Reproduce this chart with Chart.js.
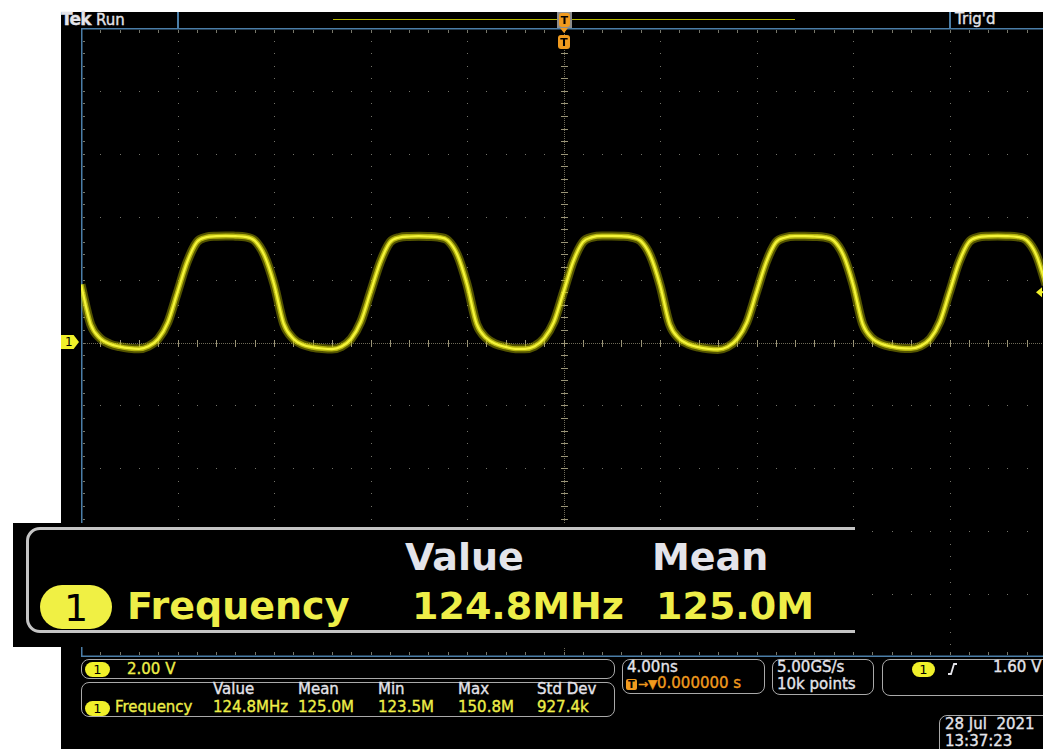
<!DOCTYPE html>
<html lang="en">
<head>
    <meta charset="UTF-8">
    <title>Tek Run - Frequency 124.8MHz</title>
    <script src="https://cdn.jsdelivr.net/npm/chart.js"></script>
    <style>
        html, body {
            margin: 0;
            padding: 0;
            width: 1043px;
            height: 749px;
            overflow: hidden;
            background: #fff;
        }
        body {
            position: relative;
            font-family: "DejaVu Sans", sans-serif;
        }
        .abs { position: absolute; }
        .scope {
            left: 61px; top: 12px;
            width: 982px; height: 737px;
            background: #000;
        }
        .chart-container {
            left: 81px; top: 28px;
            width: 965px; height: 629px;
        }
        .txt {
            position: absolute;
            white-space: nowrap;
            line-height: 1;
            font-size: 15px;
            -webkit-text-stroke: 0.35px currentColor;
        }
        .w { color: #e4e4ea; }
        .y { color: #eeee48; }
        .o { color: #f09a1e; }
        .box {
            position: absolute;
            border: 1.5px solid #a9a9a9;
            border-radius: 8px;
            box-sizing: border-box;
        }
        .pill {
            position: absolute;
            background: #f0f02a;
            color: #000;
            border-radius: 8px;
            text-align: center;
            font-size: 13px;
            line-height: 15px;
        }
        .vline { position: absolute; width: 1.5px; background: #4b7ea8; }
        /* enlarged measurement readout */
        .zoomed {
            left: 13px; top: 523px;
            width: 842px; height: 124px;
            background: #000;
            overflow: hidden;
        }
        .zoomed .frame {
            position: absolute;
            left: 13px; top: 4px;
            width: 900px; height: 106px;
            border: 3px solid #c4c4c4;
            border-radius: 14px;
            box-sizing: border-box;
        }
        .big {
            position: absolute;
            white-space: nowrap;
            line-height: 1;
            font-size: 38px;
            font-weight: bold;
        }
    </style>
</head>
<body>
    <div class="abs scope"></div>

    <!-- top status bar -->
    <div class="txt w" style="left:61px; top:11px; font-size:17px; font-weight:bold; letter-spacing:-0.8px;">Tek</div>
    <div class="txt w" style="left:96px; top:13px;">Run</div>
    <div class="vline" style="left:177px; top:12px; height:16px;"></div>
    <div class="abs" style="left:333px; top:18.5px; width:462px; height:1.5px; background:#b8b800;"></div>
    <div class="vline" style="left:949px; top:12px; height:16px;"></div>
    <div class="txt w" style="left:955px; top:12px;">Trig'd</div>

    <div class="chart-container abs">
        <canvas id="scopeChart"></canvas>
    </div>

    <!-- trigger position markers -->
    <div class="abs" style="left:557px; top:12px; width:15px; height:16px; background:#8c8c8c;"></div>
    <div class="abs o" style="left:559px; top:13px; width:11px; height:14px; background:#f09a1e; border-radius:3px; color:#000; font:bold 11px 'DejaVu Sans'; text-align:center; line-height:15px;">T</div>
    <div class="abs" style="left:560px; top:28px; width:0; height:0; border-left:4.5px solid transparent; border-right:4.5px solid transparent; border-top:5px solid #f09a1e;"></div>
    <div class="abs" style="left:558px; top:35px; width:12px; height:14px; background:#f09a1e; border-radius:3px; color:#000; font:bold 11px 'DejaVu Sans'; text-align:center; line-height:15px;">T</div>

    <!-- channel 1 ground marker -->
    <div class="abs" style="left:61px; top:335px; width:18px; height:14px; background:#f0f02a; clip-path:polygon(0 0, 70% 0, 100% 50%, 70% 100%, 0 100%); color:#000; font-size:12px; line-height:14px; text-indent:4px;">1</div>

    <!-- bottom readouts -->
    <div class="box" style="left:81px; top:659px; width:534px; height:20px;"></div>
    <div class="pill" style="left:85px; top:662px; width:25px; height:15px;">1</div>
    <div class="txt y" style="left:127px; top:662px;">2.00 V</div>

    <div class="box" style="left:81px; top:682px; width:534px; height:35px;"></div>
    <div class="txt w" style="left:213px; top:682px;">Value</div>
    <div class="txt w" style="left:298px; top:682px;">Mean</div>
    <div class="txt w" style="left:378px; top:682px;">Min</div>
    <div class="txt w" style="left:458px; top:682px;">Max</div>
    <div class="txt w" style="left:537px; top:682px;">Std Dev</div>
    <div class="pill" style="left:85px; top:701px; width:25px; height:15px;">1</div>
    <div class="txt y" style="left:115px; top:700px;">Frequency</div>
    <div class="txt y" style="left:213px; top:700px;">124.8MHz</div>
    <div class="txt y" style="left:298px; top:700px;">125.0M</div>
    <div class="txt y" style="left:378px; top:700px;">123.5M</div>
    <div class="txt y" style="left:458px; top:700px;">150.8M</div>
    <div class="txt y" style="left:537px; top:700px;">927.4k</div>

    <div class="box" style="left:622px; top:659px; width:143px; height:35px;"></div>
    <div class="txt w" style="left:627px; top:660px;">4.00ns</div>
    <div class="abs" style="left:626px; top:679px; width:11px; height:11px; background:#f09a1e; border-radius:2px; color:#000; font:bold 10px 'DejaVu Sans'; text-align:center; line-height:12px;">T</div>
    <div class="txt o" style="left:638px; font-size:12px; top:678px;">→▼</div>
    <div class="txt o" style="left:657px; top:676px;">0.000000 s</div>

    <div class="box" style="left:772px; top:659px; width:102px; height:36px;"></div>
    <div class="txt w" style="left:777px; top:660px;">5.00GS/s</div>
    <div class="txt w" style="left:777px; top:677px;">10k points</div>

    <div class="box" style="left:882px; top:659px; width:175px; height:37px;"></div>
    <div class="pill" style="left:912px; top:662px; width:23px; height:15px;">1</div>
    <svg class="abs" style="left:948px; top:663px;" width="10" height="12" viewBox="0 0 10 12">
        <path d="M0 11 L3 11 L6 1 L9 1" stroke="#e4e4ea" stroke-width="1.8" fill="none"/>
    </svg>
    <div class="txt w" style="left:993px; top:660px;">1.60 V</div>

    <div class="box" style="left:939px; top:715px; width:120px; height:50px;"></div>
    <div class="txt w" style="left:945px; top:717px; white-space:pre;">28 Jul  2021</div>
    <div class="txt w" style="left:945px; top:734px;">13:37:23</div>

    <!-- magnified measurement readout -->
    <div class="abs zoomed">
        <div class="frame"></div>
        <div class="big w" style="left:392px; top:15px;">Value</div>
        <div class="big w" style="left:639px; top:15px;">Mean</div>
        <div class="abs" style="left:27px; top:62px; width:72px; height:44px; background:#f0f044; border-radius:22px; color:#000; font-size:38px; line-height:46px; text-align:center;">1</div>
        <div class="big y" style="left:114px; top:64px;">Frequency</div>
        <div class="big y" style="left:399px; top:64px;">124.8MHz</div>
        <div class="big y" style="left:643px; top:64px;">125.0M</div>
    </div>

    <script>
        // 4.00 ns/div, 2.00 V/div, 10 x 10 divisions, trigger at centre
        const xMin = -20, xMax = 20;
        const yMin = -10, yMax = 10;
        const triggerLevel = 1.60;

        // sample times (ns)
        const timeNs = [
            -20.0, -19.6, -19.2, -18.8, -18.4, -18.0, -17.6, -17.2, -16.8, -16.4,
            -16.0, -15.6, -15.2, -14.8, -14.4, -14.0, -13.6, -13.2, -12.8, -12.4,
            -12.0, -11.6, -11.2, -10.8, -10.4, -10.0, -9.6, -9.2, -8.8, -8.4,
            -8.0, -7.6, -7.2, -6.8, -6.4, -6.0, -5.6, -5.2, -4.8, -4.4,
            -4.0, -3.6, -3.2, -2.8, -2.4, -2.0, -1.6, -1.2, -0.8, -0.4,
            0.0, 0.4, 0.8, 1.2, 1.6, 2.0, 2.4, 2.8, 3.2, 3.6,
            4.0, 4.4, 4.8, 5.2, 5.6, 6.0, 6.4, 6.8, 7.2, 7.6,
            8.0, 8.4, 8.8, 9.2, 9.6, 10.0, 10.4, 10.8, 11.2, 11.6,
            12.0, 12.4, 12.8, 13.2, 13.6, 14.0, 14.4, 14.8, 15.2, 15.6,
            16.0, 16.4, 16.8, 17.2, 17.6, 18.0, 18.4, 18.8, 19.2, 19.6,
            20.0
        ];

        // channel 1 voltage (V)
        const ch1Volts = [
            1.84, 0.58, 0.13, -0.05, -0.13, -0.18, -0.20, -0.12, 0.11, 0.64,
            1.60, 2.56, 3.19, 3.35, 3.38, 3.39, 3.38, 3.36, 3.24, 2.77,
            1.86, 0.60, 0.12, -0.07, -0.15, -0.19, -0.21, -0.13, 0.12, 0.66,
            1.60, 2.54, 3.18, 3.34, 3.37, 3.38, 3.37, 3.35, 3.25, 2.79,
            1.85, 0.59, 0.14, -0.05, -0.14, -0.20, -0.20, -0.12, 0.13, 0.65,
            1.60, 2.57, 3.19, 3.35, 3.39, 3.39, 3.38, 3.35, 3.23, 2.76,
            1.83, 0.58, 0.12, -0.06, -0.15, -0.20, -0.22, -0.14, 0.11, 0.64,
            1.60, 2.55, 3.18, 3.34, 3.38, 3.38, 3.37, 3.35, 3.24, 2.78,
            1.85, 0.59, 0.13, -0.05, -0.13, -0.18, -0.19, -0.11, 0.12, 0.65,
            1.60, 2.56, 3.19, 3.35, 3.38, 3.39, 3.38, 3.36, 3.25, 2.78,
            1.84
        ];

        const points = timeNs.map((t, i) => ({x: t, y: ch1Volts[i]}));

        // graticule: dotted divisions, centre cross with ticks, blue frame
        const graticule = {
            id: 'graticule',
            beforeDatasetsDraw(chart) {
                const {ctx, chartArea: a, scales: {x, y}} = chart;
                ctx.save();

                // dotted division lines
                ctx.fillStyle = '#74746a';
                for (let d = 1; d < 10; d++) {
                    if (d === 5) continue;
                    const px = Math.round(x.getPixelForValue(xMin + d * 4));
                    for (let k = 1; k < 50; k++) {
                        const py = Math.round(y.getPixelForValue(yMin + k * 0.4));
                        ctx.fillRect(px, py, 1, 1);
                    }
                    const py = Math.round(y.getPixelForValue(yMin + d * 2));
                    for (let k = 1; k < 50; k++) {
                        const qx = Math.round(x.getPixelForValue(xMin + k * 0.8));
                        ctx.fillRect(qx, py, 1, 1);
                    }
                }

                // centre cross
                const cx = Math.round(x.getPixelForValue(0));
                const cy = Math.round(y.getPixelForValue(0));
                ctx.fillStyle = '#6e6a58';
                for (let py = Math.round(a.top); py < a.bottom; py += 2) ctx.fillRect(cx, py, 1, 1);
                for (let px = Math.round(a.left); px < a.right; px += 2) ctx.fillRect(px, cy, 1, 1);
                ctx.fillStyle = '#9c9678';
                for (let k = 1; k < 50; k++) {
                    const py = Math.round(y.getPixelForValue(yMin + k * 0.4));
                    ctx.fillRect(cx - 3, py, 7, 1);
                    const px = Math.round(x.getPixelForValue(xMin + k * 0.8));
                    ctx.fillRect(px, cy - 3, 1, 7);
                }

                // edge ticks
                ctx.fillStyle = '#77776a';
                for (let k = 1; k < 50; k++) {
                    const px = Math.round(x.getPixelForValue(xMin + k * 0.8));
                    ctx.fillRect(px, a.top + 2, 1, 3);
                    ctx.fillRect(px, a.bottom - 5, 1, 3);
                    const py = Math.round(y.getPixelForValue(yMin + k * 0.4));
                    ctx.fillRect(a.left + 2, py, 2, 1);
                }

                // frame
                ctx.strokeStyle = '#4b7ea8';
                ctx.lineWidth = 1.5;
                ctx.beginPath();
                ctx.moveTo(a.right, a.top + 0.75);
                ctx.lineTo(a.left + 0.75, a.top + 0.75);
                ctx.lineTo(a.left + 0.75, a.bottom - 0.75);
                ctx.lineTo(a.right, a.bottom - 0.75);
                ctx.stroke();
                ctx.restore();
            },
            afterDatasetsDraw(chart) {
                // trigger level arrow on the right edge
                const {ctx, chartArea: a, scales: {y}} = chart;
                const ty = y.getPixelForValue(triggerLevel);
                ctx.save();
                ctx.fillStyle = '#f0f02a';
                ctx.beginPath();
                ctx.moveTo(a.right - 10, ty);
                ctx.lineTo(a.right - 4, ty - 5);
                ctx.lineTo(a.right - 4, ty + 5);
                ctx.closePath();
                ctx.fill();
                ctx.fillRect(a.right - 5, ty - 1, 3, 2);
                ctx.restore();
            }
        };

        const ctx = document.getElementById('scopeChart').getContext('2d');
        new Chart(ctx, {
            type: 'line',
            data: {
                datasets: [
                    {
                        label: 'Ch1',
                        data: points,
                        borderColor: '#f4f43a',
                        borderWidth: 2.2,
                        pointRadius: 0,
                        cubicInterpolationMode: 'monotone',
                        fill: false
                    },
                    {
                        label: 'Ch1 persistence',
                        data: points,
                        borderColor: 'rgba(220, 220, 20, 0.7)',
                        borderWidth: 5,
                        pointRadius: 0,
                        cubicInterpolationMode: 'monotone',
                        fill: false
                    },
                    {
                        label: 'Ch1 noise',
                        data: points,
                        borderColor: 'rgba(185, 185, 0, 0.45)',
                        borderWidth: 9,
                        pointRadius: 0,
                        cubicInterpolationMode: 'monotone',
                        fill: false
                    }
                ]
            },
            options: {
                responsive: true,
                maintainAspectRatio: false,
                animation: false,
                layout: { padding: 0 },
                plugins: {
                    legend: { display: false },
                    tooltip: { enabled: false }
                },
                scales: {
                    x: { type: 'linear', min: xMin, max: xMax, display: false },
                    y: { type: 'linear', min: yMin, max: yMax, display: false }
                }
            },
            plugins: [graticule]
        });
    </script>
</body>
</html>
